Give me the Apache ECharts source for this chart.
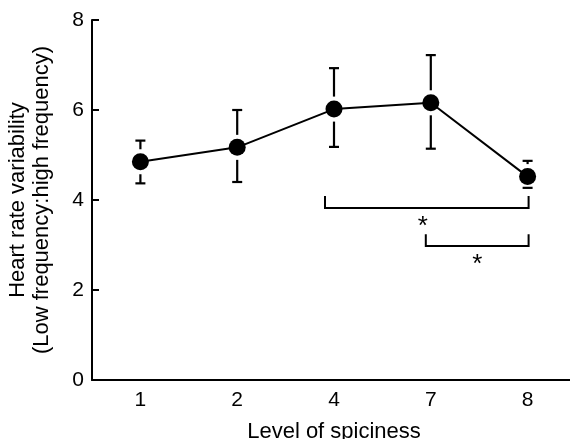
<!DOCTYPE html>
<html>
<head>
<meta charset="utf-8">
<script src="https://cdn.jsdelivr.net/npm/echarts@6/dist/echarts.min.js"></script>
<style>
  html, body { margin: 0; padding: 0; background: #fff; }
  #chart { width: 570px; height: 439px; }
</style>
</head>
<body>
<div id="chart"></div>
<script>
// data
var categories = ['1', '2', '4', '7', '8'];
var means = [4.85, 5.17, 6.02, 6.16, 4.52];
var errLow = [4.37, 4.40, 5.18, 5.14, 4.27];
var errHigh = [5.32, 6.00, 6.93, 7.22, 4.87];
var yTicks = [0, 2, 4, 6, 8];

// significance brackets (category index from / to, level of bar, top of end ticks, star level)
var bracketFrom = [2, 3];
var bracketTo = [4, 4];
var bracketY = [3.82, 2.98];
var bracketTop = [4.09, 3.24];
var starY = [3.52, 2.67];
var starText = ['*', '*'];

var FONT = 'Liberation Sans';
var chart = echarts.init(document.getElementById('chart'));

var errData = categories.map(function (c, i) {
    return [i, errLow[i], errHigh[i], means[i]];
});
var bracketData = bracketFrom.map(function (f, i) {
    return [f, bracketTo[i], bracketY[i], bracketTop[i], starY[i]];
});

function renderErr(params, api) {
    var idx = api.value(0);
    var pLow = api.coord([idx, api.value(1)]);
    var pHigh = api.coord([idx, api.value(2)]);
    var pMean = api.coord([idx, api.value(3)]);
    var x = pMean[0];
    var gap = 12.5;   // whiskers stop short of the marker
    var cap = 5;
    var st = { stroke: '#000', lineWidth: 2.2 };
    var kids = [];
    if (pHigh[1] < pMean[1] - gap) {
        kids.push({ type: 'line', shape: { x1: x, y1: pHigh[1], x2: x, y2: pMean[1] - gap }, style: st });
    }
    if (pLow[1] > pMean[1] + gap) {
        kids.push({ type: 'line', shape: { x1: x, y1: pLow[1], x2: x, y2: pMean[1] + gap }, style: st });
    }
    kids.push({ type: 'line', shape: { x1: x - cap, y1: pHigh[1], x2: x + cap, y2: pHigh[1] }, style: st });
    kids.push({ type: 'line', shape: { x1: x - cap, y1: pLow[1], x2: x + cap, y2: pLow[1] }, style: st });
    return { type: 'group', children: kids };
}

function renderBracket(params, api) {
    var i = params.dataIndex;
    var a = api.coord([api.value(0), api.value(2)]);
    var b = api.coord([api.value(1), api.value(2)]);
    var top = api.coord([api.value(0), api.value(3)])[1];
    var star = api.coord([api.value(0), api.value(4)])[1];
    var x1 = a[0] - (i === 0 ? 9 : 5);
    var x2 = b[0] + 1;
    var y = a[1];
    var sx = i === 0 ? x1 + (x2 - x1) * 0.48 : (x1 + x2) / 2;
    return {
        type: 'group',
        children: [
            { type: 'polyline', shape: { points: [[x1, top], [x1, y], [x2, y], [x2, top]] }, style: { stroke: '#000', lineWidth: 2, fill: null } },
            // asterisk glyph sits high in its box, so nudge it down
            { type: 'text', x: sx, y: star + 5, style: { text: starText[i], font: '26px ' + FONT, fill: '#000', align: 'center', verticalAlign: 'middle' } }
        ]
    };
}

var option = {
    animation: false,
    backgroundColor: '#fff',
    grid: { left: 92, top: 20, width: 484, height: 360, outerBoundsMode: 'none', containLabel: false },
    xAxis: {
        type: 'category',
        data: categories,
        boundaryGap: true,
        name: 'Level of spiciness',
        nameLocation: 'middle',
        nameGap: 41,
        nameTextStyle: { fontFamily: FONT, fontSize: 22, color: '#000' },
        axisLine: { lineStyle: { color: '#000', width: 2 } },
        axisTick: { inside: true, alignWithLabel: true, length: 6, lineStyle: { color: '#000', width: 2 } },
        axisLabel: { fontFamily: FONT, fontSize: 21, color: '#000', margin: 10 },
        splitLine: { show: false }
    },
    yAxis: {
        type: 'value',
        min: yTicks[0],
        max: yTicks[yTicks.length - 1],
        interval: 2,
        name: 'Heart rate variability\n(Low frequency:high frequency)',
        nameLocation: 'middle',
        nameGap: 38,
        nameTextStyle: { fontFamily: FONT, fontSize: 22, color: '#000', lineHeight: 24 },
        axisLine: { show: true, lineStyle: { color: '#000', width: 2 } },
        axisTick: { show: true, inside: true, length: 7, lineStyle: { color: '#000', width: 2 } },
        axisLabel: { fontFamily: FONT, fontSize: 21, color: '#000', margin: 8 },
        splitLine: { show: false }
    },
    series: [
        {
            type: 'custom',
            data: errData,
            renderItem: renderErr,
            z: 1,
            silent: true
        },
        {
            type: 'custom',
            data: bracketData,
            renderItem: renderBracket,
            z: 1,
            silent: true
        },
        {
            type: 'line',
            data: means,
            symbol: 'circle',
            symbolSize: 17,
            itemStyle: { color: '#000' },
            lineStyle: { color: '#000', width: 2 },
            z: 3
        }
    ]
};

chart.setOption(option);
</script>
</body>
</html>
